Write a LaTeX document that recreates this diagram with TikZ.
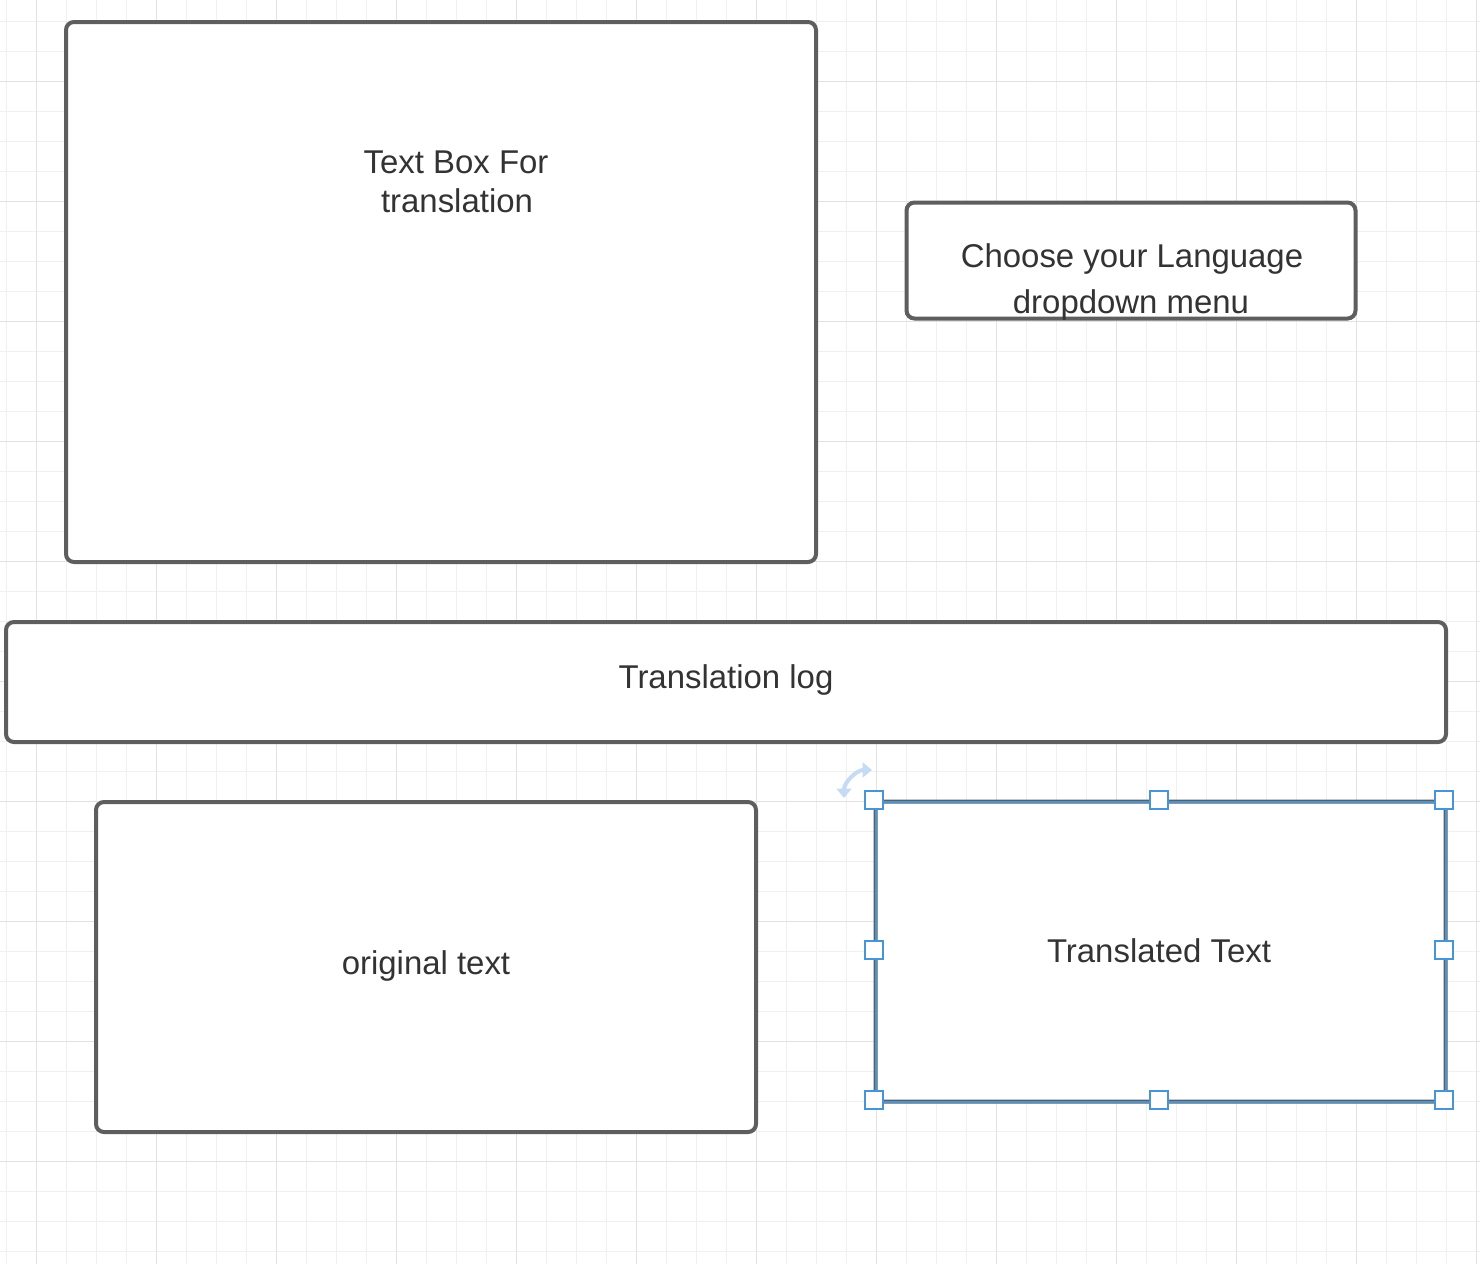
\documentclass[tikz,border=0pt]{standalone}
\usepackage{fontspec}
\setmainfont{Liberation Sans}
\usetikzlibrary{arrows.meta}
\definecolor{gridminor}{HTML}{F0F0F0}
\definecolor{gridmajor}{HTML}{E2E2E2}
\definecolor{boxline}{HTML}{5E5E5E}
\definecolor{txt}{HTML}{333333}
\definecolor{selblue}{RGB}{70,150,215}
\definecolor{rotblue}{HTML}{C5DBF4}
\begin{document}
\begin{tikzpicture}[x=0.75pt,y=-0.75pt,
  uibox/.style={draw=boxline,line width=3pt,rounded corners=6pt,fill=white,inner sep=0pt},
  lbl/.style={text=txt,font=\fontsize{24.7pt}{29pt}\selectfont,anchor=base,inner sep=0pt},
  handle/.style={draw=selblue,line width=1.5pt,fill=white,minimum size=13.5pt,inner sep=0pt,xshift=-1.1pt,yshift=1.1pt},
  gminor/.style={draw=gridminor,line width=0.75pt},
  gmajor/.style={draw=gridmajor,line width=0.75pt},
  selline/.style={draw=selblue,line width=1.5pt},
  rotarrow/.style={draw=rotblue,line width=3pt,{Triangle[length=7pt,width=11pt]}-{Triangle[length=7pt,width=11pt]}}
]
\useasboundingbox (0,0) rectangle (1480,1264);
\fill[white] (0,0) rectangle (1480,1264);
% grid
\foreach \i in {0,...,49} \draw[gminor] ({6.7+30*\i},0) -- ({6.7+30*\i},1264);
\foreach \j in {0,...,41} \draw[gminor] (0,{21.7+30*\j}) -- (1480,{21.7+30*\j});
\foreach \i in {0,...,12} \draw[gmajor] ({36.7+120*\i},0) -- ({36.7+120*\i},1264);
\foreach \j in {0,...,9} \draw[gmajor] (0,{81.7+120*\j}) -- (1480,{81.7+120*\j});
% boxes
\node[uibox,minimum width=562.5pt,minimum height=405pt] (b1) at (441,292) {};
\node[uibox,minimum width=336.75pt,minimum height=87pt] (b2) at (1131,260.5) {};
\node[uibox,minimum width=1080pt,minimum height=90pt] (b3) at (726,682) {};
\node[uibox,minimum width=495pt,minimum height=247.5pt] (b4) at (426,967) {};
\node[uibox,minimum width=427.5pt,minimum height=225pt,outer sep=0pt] (b5) at (1160.5,951.5) {};
% labels
\node[lbl] (t1a) at (456,173.3) {Text Box For};
\node[lbl] (t1b) at (457,212.7) {translation};
\node[lbl] (t2a) at (1132,267.7) {Choose your Language};
\node[lbl] (t2b) at (1131,313.3) {dropdown menu};
\node[lbl] (t3) at (726,688.3) {Translation log};
\node[lbl] (t4) at (426,974.3) {original text};
\node[lbl] (t5) at (1159,962.3) {Translated Text};
% selection
\draw[selline] (b5.north west) rectangle (b5.south east);
\node[handle] (h1) at (b5.north west) {};
\node[handle] (h2) at (b5.north) {};
\node[handle] (h3) at (b5.north east) {};
\node[handle] (h4) at (b5.west) {};
\node[handle] (h5) at (b5.east) {};
\node[handle] (h6) at (b5.south west) {};
\node[handle] (h7) at (b5.south) {};
\node[handle] (h8) at (b5.south east) {};
\coordinate (rotA) at (844,798);
\draw[rotarrow] (rotA) arc[start angle=-180,end angle=-90,radius=28];
\end{tikzpicture}
\end{document}
